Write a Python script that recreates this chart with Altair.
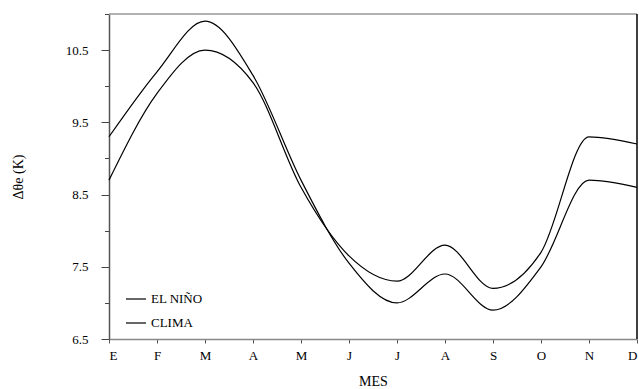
import altair as alt
import pandas as pd

month_labels = ["E", "F", "M", "A", "M", "J", "J", "A", "S", "O", "N", "D"]
month_idx = list(range(12))
el_nino = [9.3, 10.2, 10.9, 10.15, 8.7, 7.55, 7.0, 7.4, 6.9, 7.5, 8.7, 8.6]
clima = [8.7, 9.9, 10.5, 10.05, 8.6, 7.65, 7.3, 7.8, 7.2, 7.7, 9.3, 9.2]
series_names = ["EL NIÑO", "CLIMA"]
y_ticks = [6.5, 7, 7.5, 8, 8.5, 9, 9.5, 10, 10.5, 11]

rows = []
for name, vals in zip(series_names, [el_nino, clima]):
    for i, v in zip(month_idx, vals):
        rows.append({"mes": i, "valor": v, "serie": name})
df = pd.DataFrame(rows)

W, H = 528, 325
FONT = "Liberation Serif, Times New Roman, DejaVu Serif, serif"
label_expr = "[" + ",".join("'%s'" % m for m in month_labels) + "][datum.value]"

xscale = alt.Scale(domain=[0, 11], nice=False, zero=False)
yscale = alt.Scale(domain=[6.5, 11.0], nice=False, zero=False)

lines = alt.Chart(df).mark_line(interpolate="monotone", strokeWidth=1.2).encode(
    x=alt.X("mes:Q", scale=xscale,
            axis=alt.Axis(values=month_idx, labelExpr=label_expr, title="MES",
                          tickSize=4, labelPadding=6, titlePadding=12,
                          domainColor="#888888", tickColor="#555555", grid=False)),
    y=alt.Y("valor:Q", scale=yscale,
            axis=alt.Axis(values=y_ticks, title="Δθe (K)", orient="left",
                          tickSize={"condition": {"test": "datum.value % 1 == 0", "value": 4.5}, "value": 8},
                          labelExpr="datum.value % 1 == 0 ? '' : format(datum.value, '.1f')",
                          labelPadding=13, titlePadding=40,
                          domainColor="#555555", tickColor="#444444", grid=False)),
    color=alt.Color("serie:N", scale=alt.Scale(domain=series_names, range=["black", "black"]),
                    legend=alt.Legend(title=None, orient="none", legendX=16, legendY=274,
                                      symbolType="stroke", symbolSize=400, symbolStrokeWidth=1.2,
                                      labelFont=FONT, labelFontSize=13, labelColor="black",
                                      rowPadding=6, labelOffset=4)),
)

one = pd.DataFrame({"k": [0]})
top_rule = alt.Chart(one).mark_rule(color="#999999", strokeWidth=1.5).encode(
    x=alt.value(0), x2=alt.value(W), y=alt.value(0))
right_rule = alt.Chart(one).mark_rule(color="black", strokeWidth=1.5).encode(
    x=alt.value(W), y=alt.value(0), y2=alt.value(H))

chart = alt.layer(lines, top_rule, right_rule).properties(
    width=W, height=H,
    autosize=alt.AutoSizeParams(type="none"),
    padding={"left": 109, "top": 14, "right": 2, "bottom": 50},
).configure_view(stroke=None).configure_axis(
    labelFont=FONT, labelFontSize=13, labelColor="black",
    titleFont=FONT, titleFontSize=14, titleFontWeight="normal", titleColor="black",
    domainWidth=1.5,
)

chart.save("out.html", embed_options={"renderer": "svg", "actions": False})
